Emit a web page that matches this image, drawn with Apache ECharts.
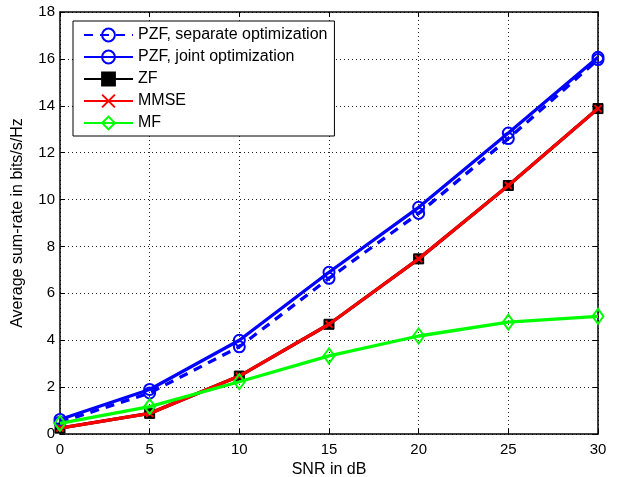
<!DOCTYPE html>
<html>
<head>
<meta charset="utf-8">
<script src="https://cdn.jsdelivr.net/npm/echarts@6/dist/echarts.min.js"></script>
<style>html,body{margin:0;padding:0;background:#fff}#c{width:619px;height:477px}</style>
</head>
<body>
<div id="c"></div>
<script>
var snr = [0, 5, 10, 15, 20, 25, 30];
var pzfSeparate = [0.5, 1.75, 3.72, 6.64, 9.41, 12.6, 15.97];
var pzfJoint = [0.62, 1.9, 4.0, 6.9, 9.67, 12.84, 16.07];
var zf = [0.25, 0.88, 2.47, 4.68, 7.47, 10.6, 13.88];
var mmse = [0.25, 0.88, 2.47, 4.68, 7.47, 10.6, 13.88];
var mf = [0.45, 1.17, 2.23, 3.33, 4.18, 4.77, 5.02];
var xTicks = [0, 5, 10, 15, 20, 25, 30];
var yTicks = [0, 2, 4, 6, 8, 10, 12, 14, 16, 18];

function pairs(ys) { return snr.map(function (x, i) { return [x, ys[i]]; }); }

var FONT = 'Liberation Sans';
var chart = echarts.init(document.getElementById('c'), null, { renderer: 'canvas' });

function mainAxis(pos, min, max, interval, name, gap, margin) {
  return {
    type: 'value', min: min, max: max, interval: interval, position: pos,
    name: name, nameLocation: 'middle', nameGap: gap,
    nameTextStyle: { color: '#000', fontFamily: FONT, fontSize: 16 },
    axisLine: { show: true, onZero: false, lineStyle: { color: '#000', width: 1.5 } },
    axisTick: { show: true, inside: true, length: 5, lineStyle: { color: '#000' } },
    axisLabel: { color: '#000', fontFamily: FONT, fontSize: 15, margin: margin },
    splitLine: { show: true, lineStyle: { color: '#222', width: 1, type: [1, 3] } }
  };
}
function frameAxis(pos, min, max, interval) {
  return {
    type: 'value', min: min, max: max, interval: interval, position: pos,
    axisLine: { show: true, onZero: false, lineStyle: { color: '#000', width: 1.5 } },
    axisTick: { show: true, inside: true, length: 5, lineStyle: { color: '#000' } },
    axisLabel: { show: false }, splitLine: { show: false }
  };
}

var LW = 3.3;
var xPath = 'path://M0,0L10,10M10,0L0,10';
var clear = 'rgba(0,0,0,0)';

chart.setOption({
  animation: false,
  backgroundColor: '#fff',
  grid: { left: 60, right: 21, top: 12, bottom: 43, containLabel: false, outerBoundsMode: 'none' },
  xAxis: [mainAxis('bottom', 0, 30, 5, 'SNR in dB', 25, 8), frameAxis('top', 0, 30, 5)],
  yAxis: [mainAxis('left', 0, 18, 2, 'Average sum-rate in bits/s/Hz', 34, 5), frameAxis('right', 0, 18, 2)],
  legend: {
    orient: 'vertical', left: 73, top: 21,
    backgroundColor: '#fff', borderColor: '#000', borderWidth: 1,
    padding: [6, 7, 5, 10], itemGap: 6, itemWidth: 49, itemHeight: 16,
    textStyle: { color: '#000', fontFamily: FONT, fontSize: 16 },
    data: ['PZF, separate optimization', 'PZF, joint optimization', 'ZF', 'MMSE', 'MF']
  },
  series: [
    {
      name: 'PZF, separate optimization', type: 'line', data: pairs(pzfSeparate),
      symbol: 'circle', symbolSize: 11,
      lineStyle: { color: '#0000ff', width: LW, type: [9, 7] },
      itemStyle: { color: clear, borderColor: '#0000ff', borderWidth: 2 }, z: 3
    },
    {
      name: 'PZF, joint optimization', type: 'line', data: pairs(pzfJoint),
      symbol: 'circle', symbolSize: 11,
      lineStyle: { color: '#0000ff', width: LW },
      itemStyle: { color: clear, borderColor: '#0000ff', borderWidth: 2 }, z: 3
    },
    {
      name: 'ZF', type: 'line', data: pairs(zf),
      symbol: 'rect', symbolSize: 10,
      lineStyle: { color: '#000', width: LW },
      itemStyle: { color: '#000', borderColor: '#000', borderWidth: 1 }, z: 2
    },
    {
      name: 'MMSE', type: 'line', data: pairs(mmse),
      symbol: xPath, symbolSize: 7,
      lineStyle: { color: '#ff0000', width: LW },
      itemStyle: { color: '#ff0000', borderColor: '#ff0000', borderWidth: 2 }, z: 4
    },
    {
      name: 'MF', type: 'line', data: pairs(mf),
      symbol: 'diamond', symbolSize: [11, 15],
      lineStyle: { color: '#00ff00', width: LW },
      itemStyle: { color: clear, borderColor: '#00ff00', borderWidth: 2 }, z: 5
    }
  ]
});
</script>
</body>
</html>
